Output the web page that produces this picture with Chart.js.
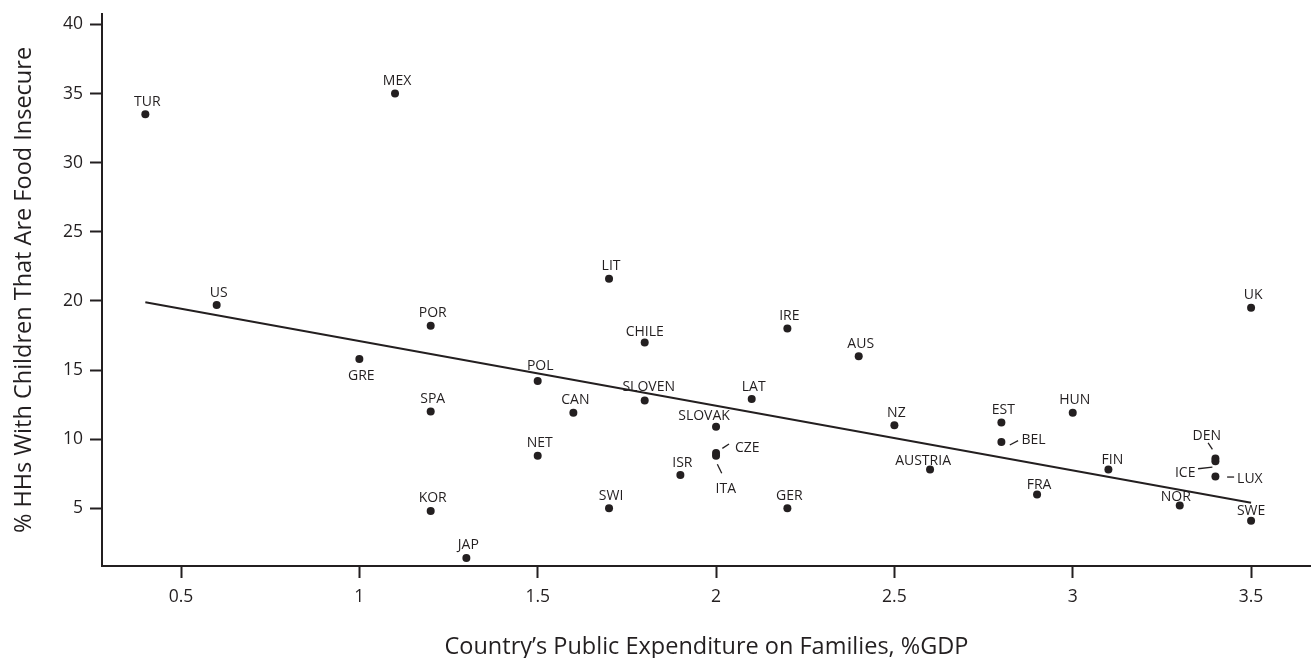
<!DOCTYPE html>
<html>
<head>
<meta charset="utf-8">
<script src="https://cdn.jsdelivr.net/npm/chart.js@4.4.1/dist/chart.umd.min.js"></script>
<style>
  html, body { margin: 0; padding: 0; background: #ffffff; }
  #wrap { width: 1311px; height: 658px; position: relative; }
</style>
</head>
<body>
<div id="wrap"><canvas id="chart" width="1311" height="658"></canvas></div>
<script>
// Country codes, family spending (% of GDP) and share of households with children that are food insecure (%)
const countries = ['TUR','MEX','US','GRE','POR','SPA','KOR','JAP','POL','CAN','NET','LIT','CHILE','SLOVEN','SWI',
  'SLOVAK','CZE','ITA','ISR','LAT','IRE','GER','AUS','NZ','AUSTRIA','EST','BEL','FRA','HUN','FIN','NOR','DEN','ICE','LUX','UK','SWE'];
const spending = [0.4, 1.1, 0.6, 1.0, 1.2, 1.2, 1.2, 1.3, 1.5, 1.6, 1.5, 1.7, 1.8, 1.8, 1.7,
  2.0, 2.0, 2.0, 1.9, 2.1, 2.2, 2.2, 2.4, 2.5, 2.6, 2.8, 2.8, 2.9, 3.0, 3.1, 3.3, 3.4, 3.4, 3.4, 3.5, 3.5];
const insecure = [33.5, 35.0, 19.7, 15.8, 18.2, 12.0, 4.8, 1.4, 14.2, 11.9, 8.8, 21.6, 17.0, 12.8, 5.0,
  10.9, 9.0, 8.8, 7.4, 12.9, 18.0, 5.0, 16.0, 11.0, 7.8, 11.2, 9.8, 6.0, 11.9, 7.8, 5.2, 8.6, 8.4, 7.3, 19.5, 4.1];

// Fitted trend line end points
const trendX = [0.4, 3.5];
const trendY = [19.9, 5.4];

// Axis ticks
const xTicks = [0.5, 1, 1.5, 2, 2.5, 3, 3.5];
const yTicks = [5, 10, 15, 20, 25, 30, 35, 40];

const INK = '#231f20';
const FONT = '"Open Sans", "Noto Sans", sans-serif';

// Label placement around each dot (pixels): dx, dy to baseline, alignment, optional leader line
const labelDefault = { dx: 2, dy: -8.5, align: 'center' };
const labelPlacement = {
  GRE:    { dx: 2,    dy: 21 },
  SLOVEN: { dx: 4,    dy: -9 },
  SLOVAK: { dx: -12,  dy: -7 },
  CZE:    { dx: 19,   dy: -1.2, align: 'left',  leader: [6.3, -4.6, 13, -8.9] },
  ITA:    { dx: 9.7,  dy: 37.6, leader: [1.3, 8.6, 5.7, 17.6] },
  BEL:    { dx: 20,   dy: 2.4,  align: 'left',  leader: [8.4, 3.1, 16.7, -1.2] },
  DEN:    { dx: -8.6, dy: -18.4, leader: [-7.3, -15.7, -3, -9.1] },
  ICE:    { dx: -20,  dy: 15.5, align: 'right', leader: [-17.3, 7.5, -3, 5.8] },
  LUX:    { dx: 21.7, dy: 6.3,  align: 'left',  leader: [11.7, 0.6, 18.7, 0.6] },
  NOR:    { dx: -4,   dy: -4 },
  SWE:    { dx: 0,    dy: -6 },
  FIN:    { dx: 4,    dy: -6 },
  FRA:    { dx: 2,    dy: -5 },
  AUSTRIA:{ dx: -7,   dy: -5 },
  CHILE:  { dx: 0,    dy: -6 },
  POL:    { dx: 2.5,  dy: -11 }
};

const countryLabels = {
  id: 'countryLabels',
  afterDatasetsDraw(chart) {
    const ctx = chart.ctx;
    const meta = chart.getDatasetMeta(0);
    ctx.save();
    ctx.font = '14px ' + FONT;
    ctx.fillStyle = INK;
    ctx.strokeStyle = INK;
    ctx.lineWidth = 1.3;
    ctx.textBaseline = 'alphabetic';
    meta.data.forEach((pt, i) => {
      const name = countries[i];
      const p = Object.assign({}, labelDefault, labelPlacement[name] || {});
      ctx.textAlign = p.align;
      ctx.fillText(name, pt.x + p.dx, pt.y + p.dy);
      if (p.leader) {
        const l = p.leader;
        ctx.beginPath();
        ctx.moveTo(pt.x + l[0], pt.y + l[1]);
        ctx.lineTo(pt.x + l[2], pt.y + l[3]);
        ctx.stroke();
      }
    });
    ctx.restore();
  }
};

const points = spending.map((x, i) => ({ x: x, y: insecure[i] }));
const trend = trendX.map((x, i) => ({ x: x, y: trendY[i] }));

new Chart(document.getElementById('chart'), {
  type: 'scatter',
  data: {
    datasets: [
      {
        data: points,
        pointRadius: 4,
        pointHoverRadius: 4,
        pointBackgroundColor: INK,
        pointBorderWidth: 0,
        showLine: false
      },
      {
        data: trend,
        showLine: true,
        borderColor: INK,
        borderWidth: 2,
        pointRadius: 0,
        fill: false
      }
    ]
  },
  options: {
    responsive: false,
    animation: false,
    events: [],
    layout: { autoPadding: false, padding: { top: 14, right: 0, left: 0, bottom: 0 } },
    plugins: { legend: { display: false }, tooltip: { enabled: false } },
    scales: {
      x: {
        type: 'linear',
        min: 0.2785,
        max: 3.668,
        afterBuildTicks(scale) { scale.ticks = xTicks.map(v => ({ value: v })); },
        afterFit(scale) { scale.height = 92; scale.paddingLeft = 0; scale.paddingRight = 0; },
        border: { display: true, color: INK, width: 2 },
        grid: { drawOnChartArea: false, drawTicks: true, tickLength: 12, tickColor: INK, tickWidth: 2 },
        ticks: { color: INK, font: { family: FONT, size: 17.5 }, padding: 9, maxRotation: 0,
                 callback: v => String(v) },
        title: { display: true, text: 'Country\u2019s Public Expenditure on Families, %GDP',
                 color: INK, font: { family: FONT, size: 23.5, lineHeight: 0.95 }, padding: { top: 0, bottom: 0 } }
      },
      y: {
        type: 'linear',
        min: 0.82,
        max: 40.76,
        afterBuildTicks(scale) { scale.ticks = yTicks.map(v => ({ value: v })); },
        afterFit(scale) { scale.width = 102; scale.paddingTop = 0; scale.paddingBottom = 0; },
        border: { display: true, color: INK, width: 2 },
        grid: { drawOnChartArea: false, drawTicks: true, tickLength: 12, tickColor: INK, tickWidth: 2 },
        ticks: { color: INK, font: { family: FONT, size: 17.5 }, padding: 7,
                 callback: v => String(v) },
        title: { display: true, text: '% HHs With Children That Are Food Insecure',
                 color: INK, font: { family: FONT, size: 23.5 }, padding: { top: 10, bottom: 0 } }
      }
    }
  },
  plugins: [countryLabels]
});
</script>
</body>
</html>
